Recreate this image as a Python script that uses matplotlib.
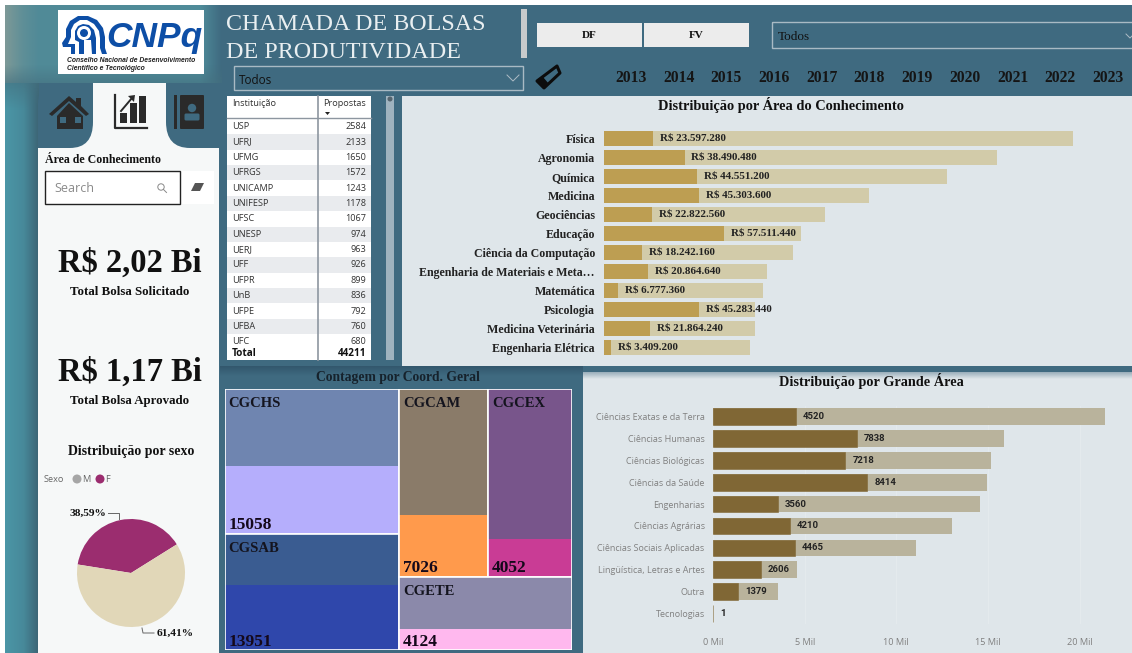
#!/usr/bin/env python3
import numpy as np
import matplotlib
matplotlib.use('Agg')
import matplotlib.pyplot as plt
from matplotlib.colors import LinearSegmentedColormap, to_rgb
from matplotlib.patches import Rectangle, Polygon, Circle, PathPatch, FancyBboxPatch
from matplotlib.path import Path

# dados
anos = ['2013', '2014', '2015', '2016', '2017', '2018', '2019', '2020', '2021', '2022', '2023']

instituicoes = ['USP', 'UFRJ', 'UFMG', 'UFRGS', 'UNICAMP', 'UNIFESP', 'UFSC', 'UNESP',
                'UERJ', 'UFF', 'UFPR', 'UnB', 'UFPE', 'UFBA', 'UFC']
propostas = [2584, 2133, 1650, 1572, 1243, 1178, 1067, 974, 963, 926, 899, 836, 792, 760, 680]
total_propostas = 44211

areas = ['Física', 'Agronomia', 'Química', 'Medicina', 'Geociências', 'Educação',
         'Ciência da Computação', 'Engenharia de Materiais e Meta…', 'Matemática',
         'Psicologia', 'Medicina Veterinária', 'Engenharia Elétrica']
areas_aprovado = [23597280, 38490480, 44551200, 45303600, 22822560, 57511440,
                  18242160, 20864640, 6777360, 45283440, 21864240, 3409200]
areas_solicitado = [224e6, 188e6, 164e6, 126.5e6, 105.8e6, 94e6, 90.2e6, 78e6, 76e6, 72.4e6, 72e6, 70e6]

grandes = ['Ciências Exatas e da Terra', 'Ciências Humanas', 'Ciências Biológicas',
           'Ciências da Saúde', 'Engenharias', 'Ciências Agrárias',
           'Ciências Sociais Aplicadas', 'Lingüística, Letras e Artes', 'Outra', 'Tecnologias']
grandes_aprovado = [4520, 7838, 7218, 8414, 3560, 4210, 4465, 2606, 1379, 1]
grandes_total = [21400, 15900, 15170, 14960, 14550, 13050, 11100, 4570, 3560, 1]

sexo_labels = ['F', 'M']
sexo_pct = [38.59, 61.41]

coord_nomes = ['CGCHS', 'CGSAB', 'CGCAM', 'CGCEX', 'CGETE']
coord_valores = [15058, 13951, 7026, 4052, 4124]
# area relativa de cada retangulo e fracao escura, estimadas na imagem
coord_area = [24.7, 19.9, 16.3, 15.5, 12.4]
coord_frac = [0.53, 0.44, 0.67, 0.80, 0.72]
coord_cor_sup = ['#6f85b0', '#3a5c91', '#8a7b69', '#78558b', '#8b89aa']
coord_cor_inf = ['#b5aefc', '#2f47ab', '#ff9a4c', '#c93c95', '#ffb8ee']

W, H = 1132, 653
SERIF = 'Liberation Serif'
SANS = 'Open Sans'
FUNDO = '#3f6a80'
PAINEL = '#dfe6ea'

fig = plt.figure(figsize=(W / 100, H / 100), dpi=100, facecolor='white')


def px_axes(x0, y0, x1, y1, **kw):
    return fig.add_axes([x0 / W, 1 - y1 / H, (x1 - x0) / W, (y1 - y0) / H], **kw)


def sombra(ax, x0, y0, x1, y1, cor, a0, a1, vertical=True, z=1):
    # faixa em degrade de transparencia
    img = np.zeros((64, 1, 4)) if vertical else np.zeros((1, 64, 4))
    img[..., :3] = to_rgb(cor)
    img[..., 3] = np.linspace(a0, a1, 64).reshape(img.shape[:2])
    ax.imshow(img, extent=(x0, x1, y1, y0), aspect='auto', zorder=z, interpolation='bilinear')


# ---------- fundo em coordenadas de pixel ----------
bg = fig.add_axes([0, 0, 1, 1])
bg.axis('off')

grad = np.linspace(0, 1, 256).reshape(1, -1)
cm_topo = LinearSegmentedColormap.from_list('t', [(0, '#7d9997'), (0.08, '#5f8f97'), (0.15, '#518a97'),
                                                  (0.9, '#4f8c9a'), (1, FUNDO)])
cm_lado = LinearSegmentedColormap.from_list('l', [(0, '#4b96a6'), (0.55, '#47899a'), (1, '#3c6474')])
bg.add_patch(Rectangle((5, 5), W - 5, H - 5, fc=FUNDO, ec='none', zorder=0))
bg.imshow(grad, extent=(5, 222, 83, 5), cmap=cm_topo, aspect='auto', zorder=1)
sombra(bg, 5, 65, 222, 83, '#44707f', 0, 0.6, z=1.2)
bg.imshow(grad, extent=(5, 39, H, 83), cmap=cm_lado, aspect='auto', zorder=1)
sombra(bg, 5, 83, 39, 110, '#44707f', 0.6, 0, z=1.2)
bg.set_xlim(0, W)
bg.set_ylim(H, 0)

# logo
bg.add_patch(Rectangle((58, 10), 146, 64, fc='white', ec='none', zorder=2))
azul = '#0d4ea6'
bg.add_patch(Polygon([(71, 54), (71, 47), (63, 47), (62, 43), (66, 37), (66, 29), (70, 21), (78, 16), (88, 16),
                      (97, 20), (103, 28), (105, 37), (105, 48), (107, 54)], fc=azul, ec='none', zorder=3))
bg.add_patch(Polygon([(75, 54), (75, 44), (68, 44), (71, 37), (71, 30), (74, 24), (80, 20), (87, 20),
                      (94, 24), (99, 31), (100, 38), (100, 48), (102, 54)], fc='white', ec='none', zorder=3))
bg.add_patch(Polygon([(79, 54), (79, 42), (75, 40), (75, 31), (78, 26), (83, 24), (89, 25), (94, 30),
                      (96, 38), (96, 54)], fc=azul, ec='none', zorder=3))
bg.add_patch(Polygon([(84, 54), (84, 40), (91, 40), (92, 54)], fc='white', ec='none', zorder=3))
bg.add_patch(Circle((84, 33), 7, fc='white', ec='none', zorder=3))
bg.add_patch(Circle((84, 33), 4, fc=azul, ec='none', zorder=3))
bg.text(106, 37, 'CNPq', family='Liberation Sans', weight='bold', style='italic', size=25.5, color=azul,
        ha='left', va='center', zorder=3)
bg.text(67, 61, 'Conselho Nacional de Desenvolvimento', family='Liberation Sans', weight='bold',
        style='italic', size=4.9, color='#222222', va='center', zorder=3)
bg.text(67, 69, 'Científico e Tecnológico', family='Liberation Sans', weight='bold',
        style='italic', size=4.9, color='#222222', va='center', zorder=3)

# titulo e filtros
bg.text(226, 24, 'CHAMADA DE BOLSAS', family=SERIF, size=17.3, color='#e9eff1', va='center', zorder=3)
bg.text(226, 52, 'DE PRODUTIVIDADE', family=SERIF, size=17.3, color='#e9eff1', va='center', zorder=3)
bg.add_patch(Rectangle((521, 9), 6, 49, fc='#c8cbcc', ec='none', zorder=3))
for x0, rotulo in [(537, 'DF'), (644, 'FV')]:
    bg.add_patch(Rectangle((x0, 23), 105, 24, fc='#ececec', ec='none', zorder=3))
    bg.text(x0 + 52, 36, rotulo, family=SERIF, weight='bold', size=8, color='#111111',
            ha='center', va='center', zorder=4)
bg.add_patch(Rectangle((772, 22), 380, 26, fc='none', ec='#a9bac4', lw=1, zorder=3))
bg.text(778, 37, 'Todos', family=SERIF, size=9.5, color='#111111', va='center', zorder=4)
bg.plot([1126, 1130, 1134], [34, 38, 34], color='#aebdc6', lw=0.7, zorder=4)
bg.add_patch(Rectangle((234, 66), 289, 24, fc='none', ec='#a9bac4', lw=1, zorder=3))
bg.text(239, 81, 'Todos', family=SANS, size=8.5, color='#111111', va='center', zorder=4)
bg.plot([507, 513, 519], [75, 81, 75], color='#aebdc6', lw=0.7, zorder=4)
# borracha preta
bg.add_patch(Polygon([(537, 81), (557, 66), (560, 73), (544, 88)], fc='none', ec='#0c0c0c', lw=2.2,
                     joinstyle='round', zorder=4))
bg.add_patch(Polygon([(537, 81), (543, 77), (549, 84), (544, 88)], fc='#0c0c0c', ec='none', zorder=4))
for i, ano in enumerate(anos):
    bg.text(631 + 47.7 * i, 78, ano, family=SERIF, weight='bold', size=11.3, color='#151515',
            ha='center', va='center', zorder=4)

# painel esquerdo e abas
bg.add_patch(Rectangle((38, 148), 181, H - 148, fc='#f6f8f8', ec='none', zorder=2))
faixa = Path([(38, 148), (38, 103), (38, 83), (58, 83), (222, 83), (222, 148), (38, 148)],
             [Path.MOVETO, Path.LINETO, Path.CURVE3, Path.CURVE3, Path.LINETO, Path.LINETO, Path.CLOSEPOLY])
bg.add_patch(PathPatch(faixa, fc=FUNDO, ec='none', zorder=2))
aba = Path([(93, 83), (166, 83), (166, 122), (166, 148), (190, 148), (70, 148), (93, 148), (93, 122), (93, 83)],
           [Path.MOVETO, Path.LINETO, Path.LINETO, Path.CURVE3, Path.CURVE3, Path.LINETO,
            Path.CURVE3, Path.CURVE3, Path.CLOSEPOLY])
bg.add_patch(PathPatch(aba, fc='#f6f8f8', ec='none', zorder=3))
ICONE = '#2a2a2a'
# casa
bg.add_patch(Polygon([(69, 96), (76, 102), (76, 98), (81, 98), (81, 106), (89, 114), (86, 116), (69, 101),
                      (52, 116), (49, 114)], fc=ICONE, ec='none', zorder=4))
bg.add_patch(Polygon([(69, 103), (83, 116), (83, 129), (57, 129), (57, 116)], fc=ICONE, ec='none', zorder=4))
bg.add_patch(Rectangle((60, 117), 6, 6, fc=FUNDO, ec='none', zorder=5))
bg.add_patch(Rectangle((75, 117), 6, 6, fc=FUNDO, ec='none', zorder=5))
# grafico
bg.plot([115, 115, 147], [95, 128, 128], color=ICONE, lw=1.6, zorder=4)
bg.add_patch(Rectangle((120, 113), 7, 10, fc=ICONE, ec='none', zorder=4))
bg.add_patch(Rectangle((130, 103), 7, 20, fc=ICONE, ec='none', zorder=4))
bg.add_patch(Rectangle((139, 96), 7, 27, fc=ICONE, ec='none', zorder=4))
bg.plot([121, 132], [111, 98], color=ICONE, lw=1.4, zorder=4)
bg.add_patch(Polygon([(128, 96), (135, 95), (134, 102)], fc=ICONE, ec='none', zorder=4))
# agenda
bg.add_patch(Rectangle((174, 95), 3, 34, fc=ICONE, ec='none', zorder=4))
bg.add_patch(FancyBboxPatch((181, 96), 22, 32, boxstyle='round,pad=1', fc=ICONE, ec='none', zorder=4))
bg.add_patch(Circle((192, 108), 4.2, fc=FUNDO, ec='none', zorder=5))
bg.add_patch(FancyBboxPatch((186, 115), 12, 4, boxstyle='round,pad=1.5', fc=FUNDO, ec='none', zorder=5))

# busca
bg.text(45, 160, 'Área de Conhecimento', family=SERIF, weight='bold', size=8.6, color='#111111',
        va='center', zorder=4)
bg.add_patch(Rectangle((45, 171), 169, 33, fc='white', ec='none', zorder=3))
bg.add_patch(Rectangle((45, 171), 135, 33, fc='white', ec='#222222', lw=1, zorder=4))
bg.text(54, 188, 'Search', family=SANS, size=9, color='#8a8a8a', va='center', zorder=5)
bg.add_patch(Circle((161, 187), 3.2, fc='none', ec='#888888', lw=0.7, zorder=5))
bg.plot([163.5, 166.5], [189.5, 192.5], color='#888888', lw=0.7, zorder=5)
bg.add_patch(Polygon([(191, 191), (195, 183), (204, 183), (200, 191)], fc='#555555', ec='none', zorder=5))

# cartoes
for y0, valor, rotulo in [(263, 'R$ 2,02 Bi', 'Total Bolsa Solicitado'), (372, 'R$ 1,17 Bi', 'Total Bolsa Aprovado')]:
    bg.text(130, y0, valor, family=SERIF, weight='bold', size=23.5, color='#111111',
            ha='center', va='center', zorder=4)
    bg.text(130, y0 + 29, rotulo, family=SERIF, weight='bold', size=9.3, color='#111111',
            ha='center', va='center', zorder=4)

# pizza: texto
bg.text(131, 451, 'Distribuição por sexo', family=SERIF, weight='bold', size=10, color='#111111',
        ha='center', va='center', zorder=4)
bg.text(44, 479, 'Sexo', family=SANS, size=6.6, color='#666666', va='center', zorder=4)
bg.add_patch(Circle((77, 479), 4.5, fc='#a6a6a6', ec='none', zorder=4))
bg.text(82, 479, 'M', family=SANS, size=6.6, color='#666666', va='center', zorder=4)
bg.add_patch(Circle((100, 479), 4.5, fc='#9b2d6f', ec='none', zorder=4))
bg.text(105, 479, 'F', family=SANS, size=6.6, color='#666666', va='center', zorder=4)

# tabela
bg.add_patch(Rectangle((227, 96), 144, 264, fc='white', ec='none', zorder=2))
bg.text(232, 104, 'Instituição', family=SANS, size=6.6, color='#333333', va='center', zorder=4)
bg.text(323, 104, 'Propostas', family=SANS, size=6.6, color='#333333', va='center', zorder=4)
bg.add_patch(Polygon([(325, 112), (330, 112), (327.5, 115)], fc='#222222', ec='none', zorder=4))
bg.plot([227, 371], [117.5, 117.5], color='#8d96a0', lw=1, zorder=4)
for i, (nome, n) in enumerate(zip(instituicoes, propostas)):
    yc = 126.7 + 15.36 * i
    if i % 2 == 1:
        bg.add_patch(Rectangle((227, yc - 7.7), 144, 15.36, fc='#e9ebee', ec='none', zorder=3))
    bg.text(232, yc, nome, family=SANS, size=6.6, color='#333333', va='center', zorder=4)
    bg.text(366, yc, str(n), family=SANS, size=6.6, color='#333333', ha='right', va='center', zorder=4)
bg.add_patch(Rectangle((227, 345), 144, 15, fc='white', ec='none', zorder=4))
bg.text(232, 353, 'Total', family=SANS, weight='bold', size=7.2, color='#111111', va='center', zorder=5)
bg.text(366, 353, str(total_propostas), family=SANS, weight='bold', size=7.2, color='#111111',
        ha='right', va='center', zorder=5)
bg.plot([318, 318], [96, 360], color='#8d96a0', lw=1.2, zorder=5)
bg.add_patch(Rectangle((386, 96), 8, 264, fc='#9fb3bf', ec='none', zorder=2))
bg.add_patch(Circle((390, 99), 2.5, fc='#55656f', ec='none', zorder=3))

# paineis dos graficos
bg.add_patch(Rectangle((402, 96), W - 402, 270, fc=PAINEL, ec='none', zorder=2))
bg.add_patch(Rectangle((583, 372), W - 583, H - 372, fc=PAINEL, ec='none', zorder=2))
sombra(bg, 583, 372, W, 379, '#5f7f92', 0.55, 0, z=2.5)
sombra(bg, 220, 366, 583, 376, '#2a4a60', 0.6, 0, z=1)
bg.text(781, 105, 'Distribuição por Área do Conhecimento', family=SERIF, weight='bold', size=10.4,
        color='#111111', ha='center', va='center', zorder=4)
bg.text(871, 381, 'Distribuição por Grande Área', family=SERIF, weight='bold', size=10.3,
        color='#111111', ha='center', va='center', zorder=4)
bg.text(398, 377.5, 'Contagem por Coord. Geral', family=SERIF, weight='bold', size=9.8,
        color='#16222c', ha='center', va='center', zorder=4)
bg.set_xlim(0, W)
bg.set_ylim(H, 0)

# ---------- barras: area do conhecimento ----------
ax1 = px_axes(604, 128.8, W, 356.8)
ax1.patch.set_alpha(0)
pos1 = np.arange(len(areas))
ax1.barh(pos1, areas_solicitado, height=0.77, color='#d2cba9')
ax1.barh(pos1, areas_aprovado, height=0.77, color='#bd9e52')
ax1.set_xlim(0, (W - 604) * 478000)
ax1.set_ylim(len(areas) - 0.5, -0.5)
ax1.set_yticks(pos1, areas, family=SERIF, weight='bold', size=8.6, color='#222222')
ax1.set_xticks([])
ax1.tick_params(axis='y', length=0, pad=6.5)
for s in ax1.spines.values():
    s.set_visible(False)
for i, v in enumerate(areas_aprovado):
    txt = 'R$ ' + f'{v:,}'.replace(',', '.')
    ax1.annotate(txt, (v, i), xytext=(5, 0), textcoords='offset points', family=SERIF, weight='bold',
                 size=7.9, color='#222222', va='center')

# ---------- barras: grande area ----------
ax2 = px_axes(713, 405.8, W, 624.3)
ax2.patch.set_alpha(0)
pos2 = np.arange(len(grandes))
ax2.barh(pos2, grandes_total, height=0.76, color='#b9b39c')
ax2.barh(pos2, grandes_aprovado, height=0.76, color='#806735', edgecolor='#806735', lw=0.4)
ax2.set_xlim(0, (W - 713) / 18.33 * 1000)
ax2.set_ylim(len(grandes) - 0.5, -0.5)
ax2.set_yticks(pos2, grandes, family=SANS, size=6.5, color='#808080')
ax2.set_xticks([0, 5000, 10000, 15000, 20000], ['0 Mil', '5 Mil', '10 Mil', '15 Mil', '20 Mil'],
               family=SANS, size=6.6, color='#808080')
ax2.tick_params(axis='y', length=0, pad=6)
ax2.tick_params(axis='x', length=0, pad=10)
ax2.grid(axis='x', color='#e6ebee', lw=0.6)
ax2.set_axisbelow(True)
for s in ax2.spines.values():
    s.set_visible(False)
for i, v in enumerate(grandes_aprovado):
    ax2.annotate(str(v), (v, i), xytext=(5, 0), textcoords='offset points', family='Roboto', weight='bold',
                 size=6.8, color='#222222', va='center')

# ---------- pizza ----------
ax3 = px_axes(77, 519, 185, 627)
ax3.pie(sexo_pct, colors=['#9b2d6f', '#e1d7b8'], startangle=32, radius=1)
ax3.set_xlim(-1, 1)
ax3.set_ylim(-1, 1)
bg.text(69, 513, f'{sexo_pct[0]:.2f}%'.replace('.', ','), family=SERIF, weight='bold', size=8.2,
        color='#111111', va='center', zorder=4)
bg.plot([108, 119, 119], [513, 513, 519], color='#666666', lw=0.7, zorder=4)
bg.text(157, 633, f'{sexo_pct[1]:.2f}%'.replace('.', ','), family=SERIF, weight='bold', size=8.2,
        color='#111111', va='center', zorder=4)
bg.plot([142, 143, 154], [628, 633, 633], color='#666666', lw=0.7, zorder=4)

# ---------- treemap ----------
ax4 = px_axes(224.5, 389, 572, 650)
ax4.axis('off')
ax4.set_xlim(0, 1)
ax4.set_ylim(1, 0)


def caixa(k, x0, y0, x1, y1):
    yd = y0 + (y1 - y0) * coord_frac[k]
    ax4.add_patch(Rectangle((x0, y0), x1 - x0, yd - y0, fc=coord_cor_sup[k], ec='none'))
    ax4.add_patch(Rectangle((x0, yd), x1 - x0, y1 - yd, fc=coord_cor_inf[k], ec='none'))
    ax4.add_patch(Rectangle((x0, y0), x1 - x0, y1 - y0, fc='none', ec='white', lw=1.2))
    ax4.annotate(coord_nomes[k], (x0, y0), xytext=(3, -10.5), textcoords='offset points', family=SERIF,
                 weight='bold', size=10.5, color='#14141e', va='center')
    ax4.annotate(str(coord_valores[k]), (x0, y1), xytext=(3, 6), textcoords='offset points', family=SERIF,
                 weight='bold', size=12.5, color='#14081a', va='center')


total = sum(coord_area)
col = (coord_area[0] + coord_area[1]) / total
h0 = coord_area[0] / (coord_area[0] + coord_area[1])
caixa(0, 0, 0, col, h0)
caixa(1, 0, h0, col, 1)
topo = (coord_area[2] + coord_area[3]) / (coord_area[2] + coord_area[3] + coord_area[4])
w2 = coord_area[2] / (coord_area[2] + coord_area[3])
caixa(2, col, 0, col + (1 - col) * w2, topo)
caixa(3, col + (1 - col) * w2, 0, 1, topo)
caixa(4, col, topo, 1, 1)

fig.savefig('out.png', dpi=100)
